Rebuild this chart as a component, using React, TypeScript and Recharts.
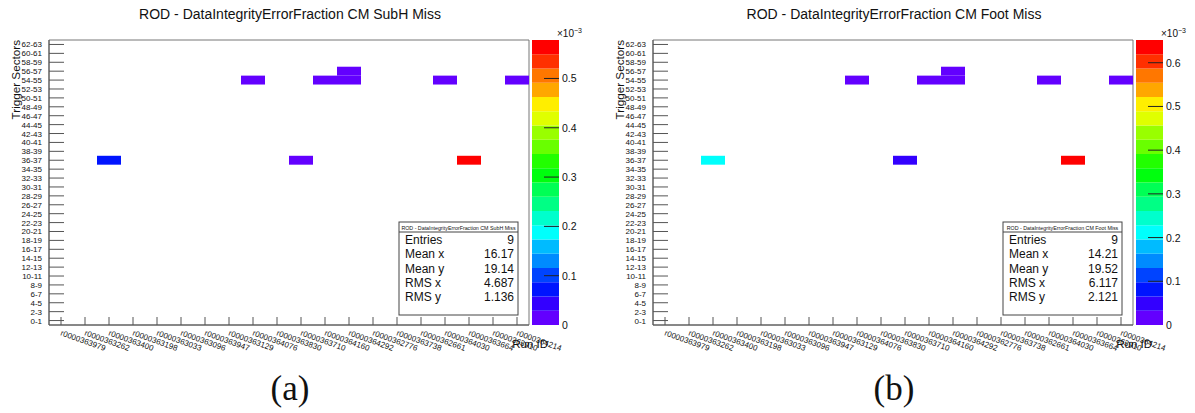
import React from 'react';
import { ScatterChart, Scatter, XAxis, YAxis, ReferenceArea, BarChart, Bar } from 'recharts';

const FONT = '"Liberation Sans", Arial, sans-serif';

const runs = [
  'r0000363979', 'r0000363262', 'r0000363400', 'r0000363198', 'r0000363033',
  'r0000363096', 'r0000363947', 'r0000363129', 'r0000364076', 'r0000363830',
  'r0000363710', 'r0000364160', 'r0000364292', 'r0000362776', 'r0000363738',
  'r0000362661', 'r0000364030', 'r0000363664', 'r0000363910', 'r0000364214',
];

const sectors = [
  '0-1', '2-3', '4-5', '6-7', '8-9', '10-11', '12-13', '14-15',
  '16-17', '18-19', '20-21', '22-23', '24-25', '26-27', '28-29', '30-31',
  '32-33', '34-35', '36-37', '38-39', '40-41', '42-43', '44-45', '46-47',
  '48-49', '50-51', '52-53', '54-55', '56-57', '58-59', '60-61', '62-63',
];

// bin contents, units of 1e-3
const subhCells = [
  { run: 'r0000363400', sector: '36-37', value: 0.078 },
  { run: 'r0000363710', sector: '36-37', value: 0.002 },
  { run: 'r0000363664', sector: '36-37', value: 0.578 },
  { run: 'r0000364076', sector: '54-55', value: 0.002 },
  { run: 'r0000364160', sector: '54-55', value: 0.002 },
  { run: 'r0000364292', sector: '54-55', value: 0.002 },
  { run: 'r0000364292', sector: '56-57', value: 0.002 },
  { run: 'r0000364030', sector: '54-55', value: 0.002 },
  { run: 'r0000364214', sector: '54-55', value: 0.002 },
];

const footCells = [
  { run: 'r0000363400', sector: '36-37', value: 0.21 },
  { run: 'r0000363710', sector: '36-37', value: 0.045 },
  { run: 'r0000363664', sector: '36-37', value: 0.652 },
  { run: 'r0000364076', sector: '54-55', value: 0.009 },
  { run: 'r0000364160', sector: '54-55', value: 0.009 },
  { run: 'r0000364292', sector: '54-55', value: 0.009 },
  { run: 'r0000364292', sector: '56-57', value: 0.009 },
  { run: 'r0000364030', sector: '54-55', value: 0.009 },
  { run: 'r0000364214', sector: '54-55', value: 0.009 },
];

const subhStats = [
  ['Entries', '9'], ['Mean x', '16.17'], ['Mean y', '19.14'], ['RMS x', '4.687'], ['RMS y', '1.136'],
];
const footStats = [
  ['Entries', '9'], ['Mean x', '14.21'], ['Mean y', '19.52'], ['RMS x', '6.117'], ['RMS y', '2.121'],
];

const subhZTicks = [0, 0.1, 0.2, 0.3, 0.4, 0.5];
const footZTicks = [0, 0.1, 0.2, 0.3, 0.4, 0.5, 0.6];

// 20 contour colours of the violet -> red spectrum palette
const palette = [
  '#6300ff', '#3300ff', '#0014ff', '#0044ff', '#008bff', '#00bbff', '#00fffc',
  '#00ffcc', '#00ff85', '#00ff55', '#00ff0e', '#22ff00', '#69ff00', '#99ff00',
  '#e0ff00', '#ffee00', '#ffa700', '#ff7700', '#ff3000', '#ff0000',
];

const colorFor = (v: number, zMax: number) =>
  palette[Math.min(palette.length - 1, Math.floor((v / zMax) * palette.length))];

const runTicks = runs.map((_, i) => i + 0.5);
const sectorTicks = sectors.map((_, i) => i + 0.5);

const RunTick = (props: any) => {
  const { x, y, payload } = props;
  const label = runs[Math.floor(payload.value)];
  const tx = x - 1;
  const ty = y + 10;
  return (
    <g>
      <line x1={x} y1={y} x2={x} y2={y - 8} stroke="#555" />
      <text x={tx} y={ty} transform={`rotate(20 ${tx} ${ty})`} fontSize={8} fontFamily={FONT} fill="#111">
        {label}
      </text>
    </g>
  );
};

const SectorTick = (props: any) => {
  const { x, y, payload } = props;
  return (
    <g>
      <line x1={x + 7} y1={y} x2={x + 22} y2={y} stroke="#555" />
      <text x={x} y={y + 3} textAnchor="end" fontSize={8} fontFamily={FONT} fill="#111">
        {sectors[Math.floor(payload.value)]}
      </text>
    </g>
  );
};

const ZTick = (props: any) => {
  const { x, y, payload } = props;
  return (
    <g>
      {payload.value > 0 && <line x1={x - 18} y1={y} x2={x - 3} y2={y} stroke="#222" />}
      <text x={x} y={y + 4} fontSize={10.5} fontFamily={FONT} fill="#111">
        {String(payload.value)}
      </text>
    </g>
  );
};

function HeatMap({ cells, zMax }: { cells: any[]; zMax: number }) {
  const points = cells.map((c) => ({
    x: runs.indexOf(c.run) + 0.5,
    y: sectors.indexOf(c.sector) + 0.5,
  }));
  return (
    <ScatterChart width={590} height={413} margin={{ top: 40, right: 61, bottom: 0, left: 0 }}>
      <XAxis
        type="number"
        dataKey="x"
        domain={[0, 20]}
        ticks={runTicks}
        interval={0}
        height={88}
        tick={RunTick}
        tickLine={false}
        tickSize={0}
        tickMargin={0}
        axisLine={{ stroke: '#555' }}
        allowDataOverflow
      />
      <YAxis
        type="number"
        dataKey="y"
        domain={[0, 32]}
        ticks={sectorTicks}
        interval={0}
        width={49}
        tick={SectorTick}
        tickLine={false}
        tickSize={0}
        tickMargin={7}
        axisLine={{ stroke: '#555' }}
        allowDataOverflow
      />
      <ReferenceArea x1={0} x2={20} y1={0} y2={32} fill="none" stroke="#777" />
      {cells.map((c, i) => {
        const r = runs.indexOf(c.run);
        const s = sectors.indexOf(c.sector);
        return (
          <ReferenceArea
            key={i}
            x1={r}
            x2={r + 1}
            y1={s}
            y2={s + 1}
            fill={colorFor(c.value, zMax)}
            fillOpacity={1}
            stroke="none"
          />
        );
      })}
      <Scatter data={points} shape={() => <g />} isAnimationActive={false} />
    </ScatterChart>
  );
}

function ColorBar({ zMax, ticks }: { zMax: number; ticks: number[] }) {
  const step = zMax / palette.length;
  const row: any = { name: 'z' };
  palette.forEach((_, i) => {
    row['b' + i] = step;
  });
  return (
    <BarChart width={70} height={305} data={[row]} margin={{ top: 10, right: 0, bottom: 10, left: 0 }} barCategoryGap={0}>
      <XAxis dataKey="name" hide />
      {palette.map((c, i) => (
        <Bar key={i} dataKey={'b' + i} stackId="z" fill={c} isAnimationActive={false} />
      ))}
      <YAxis
        orientation="right"
        width={43}
        domain={[0, zMax]}
        ticks={ticks}
        interval={0}
        tick={ZTick}
        tickLine={false}
        axisLine={false}
        tickSize={0}
        tickMargin={3}
        allowDataOverflow
      />
    </BarChart>
  );
}

function Annotations({ dx, title, stats, letter }: { dx: number; title: string; stats: string[][]; letter: string }) {
  const bx = 399 + dx;
  return (
    <g fontFamily={FONT} fill="#111">
      <text x={290 + dx} y={19} textAnchor="middle" fontSize={14}>{title}</text>
      <text x={20 + dx} y={40} transform={`rotate(-90 ${20 + dx} 40)`} textAnchor="end" fontSize={11.7}>
        Trigger Sectors
      </text>
      <text x={548 + dx} y={348} textAnchor="end" fontSize={11.5}>Run ID</text>
      <text x={557 + dx} y={37} fontSize={10}>
        ×10<tspan dy={-4} fontSize={7}>−3</tspan>
      </text>
      <rect x={bx} y={222} width={119} height={93} fill="#fff" stroke="#444" />
      <line x1={bx} y1={232} x2={bx + 119} y2={232} stroke="#444" />
      <text x={bx + 59.5} y={229.5} fontSize={5.3} textAnchor="middle">{title}</text>
      {stats.map(([k, v], i) => (
        <g key={k}>
          <text x={bx + 6} y={244 + i * 14.25} fontSize={12}>{k}</text>
          <text x={bx + 115} y={244 + i * 14.25} fontSize={12} textAnchor="end">{v}</text>
        </g>
      ))}
      <text x={290 + dx} y={400} textAnchor="middle" fontSize={35} fontFamily='"Liberation Serif", serif'>
        {letter}
      </text>
    </g>
  );
}

export default function App() {
  return (
    <div style={{ position: 'absolute', left: 0, top: 0, width: 1195, height: 413, background: '#fff', overflow: 'hidden' }}>
      <div style={{ position: 'absolute', left: 0, top: 0 }}>
        <HeatMap cells={subhCells} zMax={0.578} />
      </div>
      <div style={{ position: 'absolute', left: 532, top: 30 }}>
        <ColorBar zMax={0.578} ticks={subhZTicks} />
      </div>
      <div style={{ position: 'absolute', left: 604, top: 0 }}>
        <HeatMap cells={footCells} zMax={0.652} />
      </div>
      <div style={{ position: 'absolute', left: 1136, top: 30 }}>
        <ColorBar zMax={0.652} ticks={footZTicks} />
      </div>
      <svg width={1195} height={413} style={{ position: 'absolute', left: 0, top: 0, pointerEvents: 'none' }}>
        <Annotations dx={0} title="ROD - DataIntegrityErrorFraction CM SubH Miss" stats={subhStats} letter="(a)" />
        <Annotations dx={604} title="ROD - DataIntegrityErrorFraction CM Foot Miss" stats={footStats} letter="(b)" />
      </svg>
    </div>
  );
}
